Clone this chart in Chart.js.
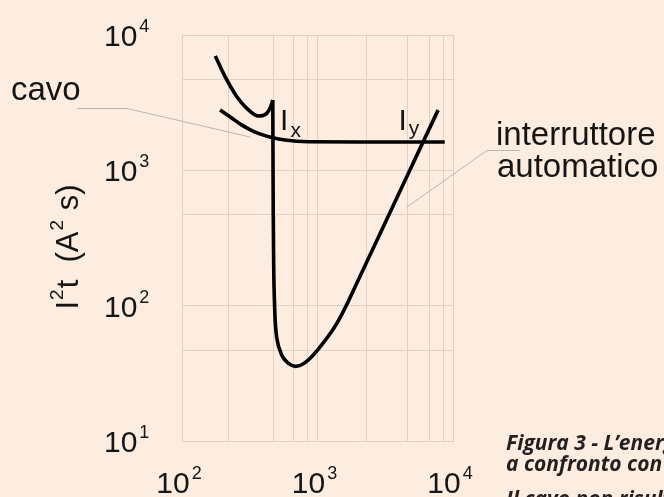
<!DOCTYPE html>
<html>
<head>
<meta charset="utf-8">
<script src="https://cdn.jsdelivr.net/npm/chart.js@4.4.0/dist/chart.umd.min.js"></script>
<style>
  html, body { margin: 0; padding: 0; background: #fdede0; }
  #wrap { position: relative; width: 664px; height: 497px; overflow: hidden; }
</style>
</head>
<body>
<div id="wrap"><canvas id="chart" width="664" height="497"></canvas></div>
<script>
// griglia (valori letti dal disegno, non sono i soliti 2..9)
const xGridValues = [100, 220, 470, 665, 845, 1000, 2300, 4600, 6750, 8450, 10000];
const xLabelExps = [2, 3, 4];
const yGridValues = [10, 47, 100, 470, 1000, 4700, 10000];
const yLabelExps = [1, 2, 3, 4];

// curva del cavo
const cavoX = [191, 230, 277, 320, 366, 459, 576, 855, 2000, 8690];
const cavoY = [2786, 2455, 2158, 1990, 1875, 1750, 1673, 1625, 1620, 1620];

// interruttore automatico: tratto a sinistra fino alla cuspide
const interrA_X = [176, 208, 254, 301, 366, 420, 450, 468];
const interrA_Y = [6998, 4920, 3500, 2872, 2518, 2624, 2931, 3304];

// interruttore automatico: tratto verticale, minimo e risalita
const interrB_X = [468, 470, 474, 481, 500, 545, 610, 690, 800, 1000, 1400, 2000, 4800, 7762];
const interrB_Y = [3304, 900, 250, 110, 58, 43, 37.5, 35.6, 37.6, 47, 75, 155, 1003, 2786];

// punti di intersezione
const ixValue = 470;
const iyValue = 5850;

const FONT = "'Liberation Sans', Arial, Helvetica, sans-serif";
const INK = '#151515';
const GRID = '#e0d1c3';
const LEADER = '#bdb4ab';

const toPoints = (xs, ys) => xs.map((x, i) => ({x: x, y: ys[i]}));

function drawRich(ctx, parts, x, y) {
    // parts: {t, size, dy, gap}
    let cx = x;
    parts.forEach(p => {
        ctx.font = `${p.size}px ${FONT}`;
        ctx.fillText(p.t, cx, y + (p.dy || 0));
        cx += ctx.measureText(p.t).width + (p.gap || 0);
    });
    return cx - x;
}

function richWidth(ctx, parts) {
    let w = 0;
    parts.forEach(p => {
        ctx.font = `${p.size}px ${FONT}`;
        w += ctx.measureText(p.t).width + (p.gap || 0);
    });
    return w;
}

function powParts(exp) {
    return [{t: '10', size: 30, gap: 2}, {t: String(exp), size: 18, dy: -14}];
}

const labelsPlugin = {
    id: 'labels',
    beforeDatasetsDraw(chart) {
        const ctx = chart.ctx;
        const xs = chart.scales.x, ys = chart.scales.y;
        ctx.save();
        ctx.strokeStyle = LEADER;
        ctx.lineWidth = 1;
        // linea di richiamo "cavo"
        ctx.beginPath();
        ctx.moveTo(77, 108.5);
        ctx.lineTo(127, 108.5);
        ctx.lineTo(xs.getPixelForValue(320), ys.getPixelForValue(1760));
        ctx.stroke();
        // linea di richiamo "interruttore automatico"
        ctx.beginPath();
        ctx.moveTo(520, 150.5);
        ctx.lineTo(487, 150.5);
        ctx.lineTo(xs.getPixelForValue(4560), ys.getPixelForValue(535));
        ctx.stroke();
        ctx.restore();
    },
    afterDraw(chart) {
        const ctx = chart.ctx;
        const xs = chart.scales.x, ys = chart.scales.y;
        ctx.save();
        ctx.fillStyle = INK;
        ctx.textBaseline = 'alphabetic';
        ctx.textAlign = 'left';

        // etichette asse y
        yLabelExps.forEach(e => {
            const py = ys.getPixelForValue(Math.pow(10, e));
            drawRich(ctx, powParts(e), 104, py + 11);
        });
        // etichette asse x
        xLabelExps.forEach(e => {
            const px = xs.getPixelForValue(Math.pow(10, e));
            const w = richWidth(ctx, powParts(e));
            drawRich(ctx, powParts(e), px - 3 - w / 2, 493);
        });

        // titolo asse y
        const title = [
            {t: 'I', size: 31, gap: 1}, {t: '2', size: 19, dy: -15, gap: 1},
            {t: 't  (A', size: 31, gap: 1}, {t: '2', size: 19, dy: -15, gap: 1},
            {t: ' s)', size: 31}
        ];
        ctx.save();
        ctx.translate(78, 247);
        ctx.rotate(-Math.PI / 2);
        drawRich(ctx, title, -richWidth(ctx, title) / 2, 0);
        ctx.restore();

        // Ix e Iy
        const pxIx = xs.getPixelForValue(ixValue);
        const pxIy = xs.getPixelForValue(iyValue);
        drawRich(ctx, [{t: 'I', size: 30, gap: 2}, {t: 'x', size: 21, dy: 7}], pxIx + 7, 130);
        drawRich(ctx, [{t: 'I', size: 30, gap: 2}, {t: 'y', size: 21, dy: 5}], pxIy - 23, 130);

        // didascalie delle curve
        ctx.font = `33px ${FONT}`;
        ctx.fillText('cavo', 11, 100);
        ctx.fillText('interruttore', 496, 145);
        ctx.fillText('automatico', 497, 177);

        // didascalia della figura (tagliata dal bordo)
        ctx.fillStyle = '#231f20';
        ctx.font = "italic 700 21px 'Open Sans', Lato, sans-serif";
        ctx.fillText('Figura 3 - L’energia specifica passante', 506, 450);
        ctx.fillText('a confronto con il cavo.', 506, 471);
        ctx.fillText('Il cavo non risulta protetto', 506, 506);
        ctx.restore();
    }
};

const lineStyle = {
    borderColor: '#000',
    borderWidth: 3.6,
    pointRadius: 0,
    fill: false
};

const ctx = document.getElementById('chart').getContext('2d');
new Chart(ctx, {
    type: 'line',
    data: {
        datasets: [
            Object.assign({label: 'cavo', data: toPoints(cavoX, cavoY), cubicInterpolationMode: 'monotone'}, lineStyle),
            Object.assign({label: 'interruttore automatico', data: toPoints(interrA_X, interrA_Y), cubicInterpolationMode: 'monotone'}, lineStyle),
            Object.assign({label: 'interruttore automatico (2)', data: toPoints(interrB_X, interrB_Y), tension: 0.4}, lineStyle)
        ]
    },
    options: {
        responsive: false,
        animation: false,
        layout: {padding: {left: 182, right: 211, top: 35, bottom: 56}},
        plugins: {
            legend: {display: false},
            tooltip: {enabled: false}
        },
        scales: {
            x: {
                type: 'logarithmic',
                min: 100,
                max: 10000,
                afterBuildTicks: axis => { axis.ticks = xGridValues.map(v => ({value: v})); },
                ticks: {display: false},
                grid: {color: GRID, lineWidth: 1, drawTicks: false},
                border: {display: true, color: GRID}
            },
            y: {
                type: 'logarithmic',
                min: 10,
                max: 10000,
                afterBuildTicks: axis => { axis.ticks = yGridValues.map(v => ({value: v})); },
                ticks: {display: false},
                grid: {color: GRID, lineWidth: 1, drawTicks: false},
                border: {display: true, color: GRID}
            }
        }
    },
    plugins: [labelsPlugin]
});
</script>
</body>
</html>
